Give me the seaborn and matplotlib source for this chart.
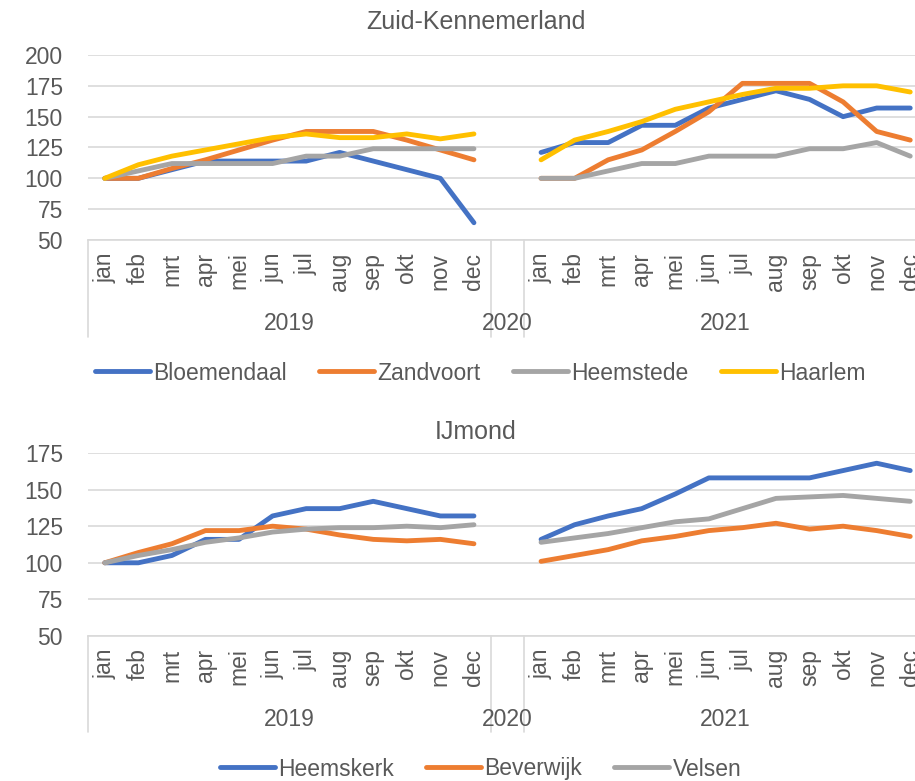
import pandas as pd
import numpy as np
import matplotlib
matplotlib.use("Agg")
import matplotlib.pyplot as plt
from matplotlib.lines import Line2D
import seaborn as sns

maanden = ['jan', 'feb', 'mrt', 'apr', 'mei', 'jun', 'jul', 'aug', 'sep', 'okt', 'nov', 'dec']
jaren = ['2019', '2020', '2021']

# Zuid-Kennemerland (index, 2020 has no data)
bloemendaal_2019 = [100, 100, 107, 114, 114, 114, 114, 121, 114, 107, 100, 64]
bloemendaal_2021 = [121, 129, 129, 143, 143, 157, 164, 171, 164, 150, 157, 157]
zandvoort_2019 = [100, 100, 108, 115, 123, 131, 138, 138, 138, 131, 123, 115]
zandvoort_2021 = [100, 100, 115, 123, 138, 154, 177, 177, 177, 162, 138, 131]
heemstede_2019 = [100, 106, 112, 112, 112, 112, 118, 118, 124, 124, 124, 124]
heemstede_2021 = [100, 100, 106, 112, 112, 118, 118, 118, 124, 124, 129, 118]
haarlem_2019 = [100, 111, 118, 123, 128, 133, 136, 133, 133, 136, 132, 136]
haarlem_2021 = [115, 131, 138, 146, 156, 162, 168, 173, 173, 175, 175, 170]

# IJmond
heemskerk_2019 = [100, 100, 105, 116, 116, 132, 137, 137, 142, 137, 132, 132]
heemskerk_2021 = [116, 126, 132, 137, 147, 158, 158, 158, 158, 163, 168, 163]
beverwijk_2019 = [100, 107, 113, 122, 122, 125, 123, 119, 116, 115, 116, 113]
beverwijk_2021 = [101, 105, 109, 115, 118, 122, 124, 127, 123, 125, 122, 118]
velsen_2019 = [100, 105, 109, 114, 117, 121, 123, 124, 124, 125, 124, 126]
velsen_2021 = [114, 117, 120, 124, 128, 130, 137, 144, 145, 146, 144, 142]

excel_kleuren = ['#4472C4', '#ED7D31', '#A5A5A5', '#FFC000']
FS = 16.5
GRIJS = '#595959'
RASTER = '#D9D9D9'

sns.set_theme(style='white')
plt.rcParams['font.family'] = ['Liberation Sans', 'DejaVu Sans']


def lange_tabel(reeksen):
    rows = []
    for naam, (v19, v21) in reeksen.items():
        for i, v in enumerate(v19):
            rows.append((naam, '2019', i, v))
        for i, v in enumerate(v21):
            rows.append((naam, '2021', len(maanden) + 1 + i, v))
    return pd.DataFrame(rows, columns=['gemeente', 'jaar', 'pos', 'index'])


def teken_paneel(fig, rect, reeksen, ymax, titel, titel_y, legend_y):
    ax = fig.add_axes(rect)
    df = lange_tabel(reeksen)
    namen = list(reeksen.keys())
    pal = dict(zip(namen, excel_kleuren))
    sns.lineplot(data=df, x='pos', y='index', hue='gemeente', hue_order=namen,
                 units='jaar', estimator=None, sort=False, palette=pal,
                 lw=3.5, solid_capstyle='round', legend=False, ax=ax)

    n = 2 * len(maanden) + 1
    ax.set_xlim(-0.5, n - 0.5)
    ax.set_ylim(50, ymax)
    ax.set_yticks(range(50, ymax + 1, 25))
    ax.set_xticks(range(n))
    ax.set_xticklabels(maanden + [''] + maanden, rotation=90)
    ax.tick_params(length=0, labelsize=FS, colors=GRIJS)
    ax.tick_params(axis='x', pad=9)
    ax.tick_params(axis='y', pad=18)
    ax.set_xlabel('')
    ax.set_ylabel('')
    ax.yaxis.grid(True, color=RASTER, lw=1.2)
    ax.set_axisbelow(True)
    for s in ['top', 'right', 'left']:
        ax.spines[s].set_visible(False)
    ax.spines['bottom'].set_color(RASTER)
    ax.spines['bottom'].set_linewidth(1.2)

    # year groups of the category axis
    trans = ax.get_xaxis_transform()
    diepte = -0.525
    for x in [-0.5, len(maanden) - 0.5, len(maanden) + 0.5, n - 0.5]:
        ax.plot([x, x], [0, diepte], transform=trans, color=RASTER, lw=1.2, clip_on=False)
    midden = [(len(maanden) - 1) / 2, len(maanden), len(maanden) + 1 + (len(maanden) - 1) / 2]
    for x, jaar in zip(midden, jaren):
        ax.annotate(jaar, xy=(x, 0), xycoords=trans, xytext=(0, -60),
                    textcoords='offset points', ha='center', va='center',
                    fontsize=FS, color=GRIJS)

    fig.text(0.52, titel_y, titel, ha='center', va='center', fontsize=18, color=GRIJS)
    handles = [Line2D([], [], color=pal[k], lw=3.5, solid_capstyle='round') for k in namen]
    fig.legend(handles, namen, loc='center', bbox_to_anchor=(0.525, legend_y), ncol=len(namen),
               frameon=False, fontsize=FS, labelcolor=GRIJS, handlelength=2.4,
               handletextpad=0.15, columnspacing=1.4)
    return ax


fig = plt.figure(figsize=(9.15, 7.81), dpi=100)

teken_paneel(fig, [88 / 915, 1 - 240 / 781, 839 / 915, 185 / 781],
             {'Bloemendaal': (bloemendaal_2019, bloemendaal_2021),
              'Zandvoort': (zandvoort_2019, zandvoort_2021),
              'Heemstede': (heemstede_2019, heemstede_2021),
              'Haarlem': (haarlem_2019, haarlem_2021)},
             200, 'Zuid-Kennemerland', 1 - 22 / 781, 1 - 373 / 781)

teken_paneel(fig, [88 / 915, 1 - 636 / 781, 839 / 915, 183 / 781],
             {'Heemskerk': (heemskerk_2019, heemskerk_2021),
              'Beverwijk': (beverwijk_2019, beverwijk_2021),
              'Velsen': (velsen_2019, velsen_2021)},
             175, 'IJmond', 1 - 432 / 781, 1 - 769 / 781)

plt.savefig('out.png', dpi=100)
plt.close()
